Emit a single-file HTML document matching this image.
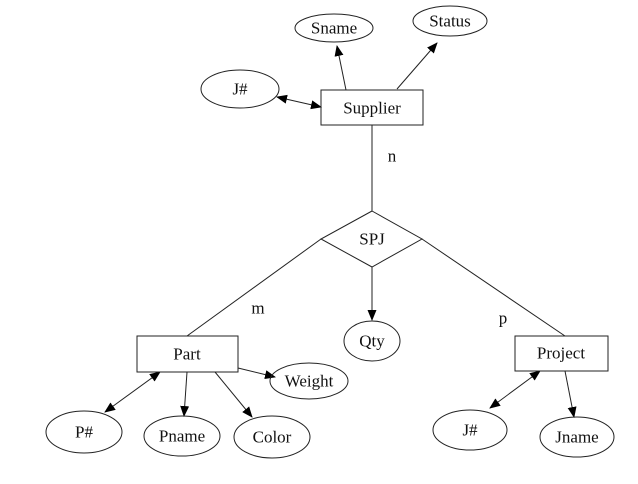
<!DOCTYPE html>
<html><head><meta charset="utf-8"><style>
html,body{margin:0;padding:0;background:#fff;}
svg text{font-family:"Liberation Serif",serif;font-size:17px;fill:#111;text-anchor:middle;dominant-baseline:central;}
</style></head><body>
<svg width="638" height="479" viewBox="0 0 638 479" xmlns="http://www.w3.org/2000/svg">
<defs>
<marker id="a" markerWidth="11" markerHeight="9" refX="10" refY="4.5" orient="auto-start-reverse" markerUnits="userSpaceOnUse"><path d="M0,0 L11,4.5 L0,9 z" fill="#000"/></marker>
</defs>
<g stroke="#222" stroke-width="1" fill="none">
<line x1="346" y1="90" x2="337" y2="46" marker-end="url(#a)"/>
<line x1="397" y1="89" x2="437" y2="43" marker-end="url(#a)"/>
<line x1="277" y1="97" x2="321" y2="107" marker-start="url(#a)" marker-end="url(#a)"/>
<line x1="372" y1="125" x2="372" y2="211"/>
<line x1="321" y1="239" x2="187" y2="336"/>
<line x1="422" y1="239" x2="565" y2="336"/>
<line x1="372" y1="267" x2="372" y2="320" marker-end="url(#a)"/>
<line x1="105" y1="412" x2="160" y2="372" marker-start="url(#a)" marker-end="url(#a)"/>
<line x1="187" y1="372" x2="184" y2="416" marker-end="url(#a)"/>
<line x1="215" y1="372" x2="252" y2="417" marker-end="url(#a)"/>
<line x1="238" y1="368" x2="275" y2="377" marker-end="url(#a)"/>
<line x1="490" y1="408" x2="540" y2="371" marker-start="url(#a)" marker-end="url(#a)"/>
<line x1="565" y1="371" x2="574" y2="417" marker-end="url(#a)"/>
<ellipse cx="334" cy="28" rx="39" ry="14"/>
<ellipse cx="450" cy="21" rx="37" ry="15"/>
<ellipse cx="240" cy="89" rx="39" ry="19"/>
<rect x="321" y="90" width="102" height="35"/>
<polygon points="372,211 422,239 372,267 321,239"/>
<ellipse cx="372" cy="341" rx="28" ry="20"/>
<rect x="137" y="336" width="101" height="36"/>
<ellipse cx="309" cy="381" rx="39" ry="18"/>
<ellipse cx="84" cy="432" rx="38" ry="21"/>
<ellipse cx="182" cy="436" rx="38" ry="20"/>
<ellipse cx="272" cy="437" rx="38" ry="21"/>
<rect x="515" y="336" width="93" height="35"/>
<ellipse cx="470" cy="430" rx="37" ry="20"/>
<ellipse cx="577" cy="437" rx="37" ry="20"/>
</g>
<text x="334" y="28">Sname</text>
<text x="450" y="21">Status</text>
<text x="240" y="89">J#</text>
<text x="372" y="108">Supplier</text>
<text x="392" y="156">n</text>
<text x="372" y="239">SPJ</text>
<text x="258" y="308">m</text>
<text x="503" y="318">p</text>
<text x="372" y="341">Qty</text>
<text x="187" y="354">Part</text>
<text x="309" y="381">Weight</text>
<text x="84" y="432">P#</text>
<text x="182" y="436">Pname</text>
<text x="272" y="437">Color</text>
<text x="561" y="353">Project</text>
<text x="470" y="430">J#</text>
<text x="577" y="437">Jname</text>
</svg>
</body></html>
